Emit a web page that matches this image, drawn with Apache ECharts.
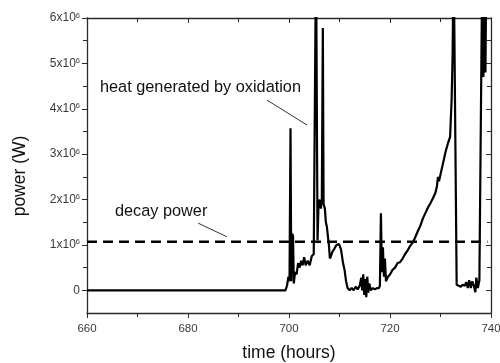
<!DOCTYPE html>
<html>
<head>
<meta charset="utf-8">
<script src="https://cdn.jsdelivr.net/npm/echarts@6/dist/echarts.min.js"></script>
<style>
html,body{margin:0;padding:0;background:#fff;}
#chart{width:500px;height:363px;}
</style>
</head>
<body>
<div id="chart"></div>
<script>
// time in hours
const times = [660, 699.3, 699.6, 699.9, 700.1, 700.3, 700.45, 700.6, 700.8, 700.95,
  701.2, 701.5, 701.8, 702.1, 702.4, 702.7, 703.0, 703.3, 703.7, 704.1, 704.5, 704.9,
  705.1, 705.35, 705.65, 705.85, 706.05, 706.3, 706.5, 706.7, 706.85, 707.1, 707.3, 707.5,
  707.7, 707.9, 708.1, 708.3, 708.6, 709.0, 709.4, 709.9, 710.3, 710.7, 711.0, 711.3, 711.6,
  712.0, 712.4, 712.8, 713.2, 713.6, 714.0, 714.3, 714.5, 714.7, 714.9, 715.1, 715.3, 715.5,
  715.7, 715.9, 716.2, 716.6, 717.0, 717.4, 717.8, 718.0, 718.2, 718.4, 718.6, 718.8, 719.0,
  719.2, 719.6, 720.0, 720.5, 721.0, 721.5, 722.0, 722.5, 723.0, 723.5, 724.0, 724.5, 725.0,
  725.5, 726.0, 726.5, 727.0, 727.5, 728.0, 728.5, 729.0, 729.3, 729.5, 729.7, 730.0, 730.5,
  731.0, 731.5, 731.9, 732.2, 732.4, 732.6, 732.95, 733.2, 733.6, 734.0, 734.4, 734.8, 735.1,
  735.4, 735.7, 736.0, 736.3, 736.6, 736.9, 737.1, 737.4, 737.7, 738.0, 738.3, 738.5, 738.7,
  738.9, 739.1];
// power in units of 10^6 W
const power = [0, 0, 0.1, 0.3, 0.2, 3.57, 0.2, 1.25, 1.2, 0.15,
  0.4, 0.35, 0.6, 0.5, 0.65, 0.55, 0.73, 0.55, 0.65, 0.55, 0.75, 0.8,
  0.8, 7.5, 1.1, 1.9, 2.0, 1.8, 2.0, 5.78, 1.9, 1.8, 1.5, 1.4,
  1.2, 1.0, 0.7, 0.75, 0.85, 0.92, 1.0, 1.02, 0.9, 0.6, 0.45, 0.2, 0.05,
  0.0, 0.05, 0.0, 0.08, 0.02, 0.1, 0.28, 0.0, 0.35, -0.1, 0.25, -0.15, 0.3,
  -0.05, 0.15, 0.0, 0.05, 0.02, 0.05, 0.05, 0.1, 1.7, 0.4, 0.95, 0.3, 0.7,
  0.2, 0.3, 0.35, 0.45, 0.5, 0.6, 0.62, 0.7, 0.8, 0.88, 0.98, 1.05, 1.17,
  1.3, 1.42, 1.58, 1.7, 1.82, 1.92, 2.03, 2.15, 2.3, 2.5, 2.4, 2.55, 2.8,
  3.05, 3.25, 3.38, 4.2, 5.2, 7.5, 7.5, 0.12, 0.1, 0.08, 0.12, 0.1, 0.18,
  0.05, 0.22, 0.05, 0.2, 0.1, -0.04, 0.28, 0.05, 0.22, 0.25, 7.5, 4.7, 7.5,
  4.8, 7.5];
const decayTimes = [660, 739.3];
const decayPower = [1.07, 1.07];
const yMajorTicks = [0, 1, 2, 3, 4, 5, 6];
const yMinorTicks = [0.5, 1.5, 2.5, 3.5, 4.5, 5.5];
const xTickInterval = 20;
const xMin = 660, xMax = 740, yMin = -0.5, yMax = 6;

const axisColor = '#2a2a2a';
const font = 'Liberation Sans, Arial, sans-serif';

const chart = echarts.init(document.getElementById('chart'), null, {renderer: 'canvas'});

const baseY = {
  type: 'value', min: yMin, max: yMax, splitLine: {show: false},
  axisLine: {show: true, onZero: false, lineStyle: {color: axisColor, width: 1.3}}
};
const baseX = {
  type: 'value', min: xMin, max: xMax, interval: xTickInterval, splitLine: {show: false},
  axisLine: {show: true, onZero: false, lineStyle: {color: axisColor, width: 1.3}}
};

const option = {
  backgroundColor: '#ffffff',
  animation: false,
  grid: {left: 87, top: 18, right: 9, bottom: 50, containLabel: false, outerBoundsMode: 'none'},
  xAxis: [
    Object.assign({}, baseX, {
      position: 'bottom',
      name: 'time (hours)', nameLocation: 'middle', nameGap: 31,
      nameTextStyle: {fontFamily: font, fontSize: 17.5, color: '#111'},
      axisTick: {show: true, inside: false, length: 5, lineStyle: {color: axisColor, width: 1}},
      minorTick: {show: true, splitNumber: 2, length: 4, lineStyle: {color: axisColor, width: 1}},
      axisLabel: {show: true, margin: 10, fontFamily: font, fontSize: 11.5, color: '#3a3a3a'}
    }),
    Object.assign({}, baseX, {
      position: 'top',
      axisTick: {show: true, inside: true, length: 5, lineStyle: {color: axisColor, width: 1}},
      minorTick: {show: true, splitNumber: 2, length: 4, lineStyle: {color: axisColor, width: 1}},
      axisLabel: {show: false}
    })
  ],
  yAxis: [
    Object.assign({}, baseY, {
      position: 'left',
      axisTick: {show: true, inside: false, length: 5, customValues: yMajorTicks, lineStyle: {color: axisColor, width: 1}},
      axisLabel: {
        show: true, margin: 7, customValues: yMajorTicks, fontFamily: font, color: '#3a3a3a',
        formatter: v => v === 0 ? '{b|0}' : '{b|' + v + 'x10}{s|6}',
        rich: {
          b: {fontFamily: font, fontSize: 12, color: '#3a3a3a', lineHeight: 13},
          s: {fontFamily: font, fontSize: 7.5, color: '#3a3a3a', lineHeight: 13, verticalAlign: 'top', padding: [0, 0, 6, 0]}
        }
      }
    }),
    Object.assign({}, baseY, {
      position: 'right',
      axisTick: {show: true, inside: true, length: 5, customValues: yMajorTicks, lineStyle: {color: axisColor, width: 1}},
      axisLabel: {show: false}
    }),
    Object.assign({}, baseY, {
      position: 'left',
      axisLine: {show: false},
      axisTick: {show: true, inside: false, length: 4, customValues: yMinorTicks, lineStyle: {color: axisColor, width: 1}},
      axisLabel: {show: false}
    }),
    Object.assign({}, baseY, {
      position: 'right',
      axisLine: {show: false},
      axisTick: {show: true, inside: true, length: 4, customValues: yMinorTicks, lineStyle: {color: axisColor, width: 1}},
      axisLabel: {show: false}
    })
  ],
  series: [
    {
      name: 'decay power', type: 'line', xAxisIndex: 0, yAxisIndex: 0,
      data: decayTimes.map((t, i) => [t, decayPower[i]]),
      symbol: 'none', silent: true,
      lineStyle: {color: '#000', width: 2.5, type: [10, 6]},
      z: 2
    },
    {
      name: 'power', type: 'line', xAxisIndex: 0, yAxisIndex: 0,
      data: times.map((t, i) => [t, power[i]]),
      symbol: 'none', clip: true,
      lineStyle: {color: '#000', width: 2.2},
      z: 3,
      markLine: {
        silent: true, symbol: ['none', 'arrow'], symbolSize: [0, 8],
        lineStyle: {color: '#333', width: 1, type: 'solid'},
        label: {show: false},
        data: [
          [{coord: [695.65, 4.19]}, {coord: [703.6, 3.64]}],
          [{coord: [682.0, 1.48]}, {coord: [687.7, 1.18]}]
        ]
      }
    }
  ],
  graphic: [
    {type: 'text', left: 100, top: 80, style: {text: 'heat generated by oxidation', fontFamily: font, fontSize: 16.3, fill: '#111'}},
    {type: 'text', left: 115, top: 204, style: {text: 'decay power', fontFamily: font, fontSize: 16.3, fill: '#111'}},
    {type: 'text', x: 20, y: 176, rotation: Math.PI / 2,
      style: {text: 'power (W)', fontFamily: font, fontSize: 17.5, fill: '#111', align: 'center', verticalAlign: 'middle'}}
  ]
};
chart.setOption(option);
</script>
</body>
</html>
